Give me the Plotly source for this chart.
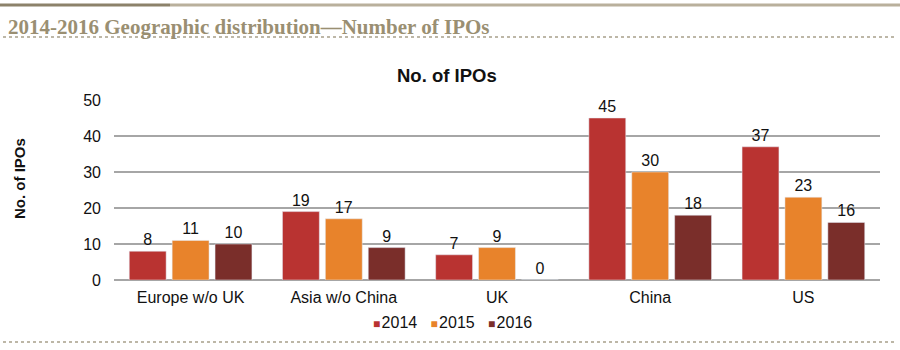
import plotly.graph_objects as go

categories = ["Europe w/o UK", "Asia w/o China", "UK", "China", "US"]
years = ["2014", "2015", "2016"]
ipos_2014 = [8, 19, 7, 45, 37]
ipos_2015 = [11, 17, 9, 30, 23]
ipos_2016 = [10, 9, 0, 18, 16]
series = [ipos_2014, ipos_2015, ipos_2016]
colors = ["#b93331", "#e8832b", "#7a2e2a"]

W, H = 900, 350
L, R, T, B = 114, 20, 100, 70
pw, ph = W - L - R, H - T - B

def px(x):
    return (x - L) / pw

def py(y):
    return (H - B - y) / ph

fig = go.Figure()
for name, vals, c in zip(years, series, colors):
    fig.add_trace(go.Bar(
        x=categories, y=vals, name=name, marker_color=c,
        text=[str(v) for v in vals], textposition="outside",
        textfont=dict(family="Liberation Sans, Arial", size=16, color="#111"),
        cliponaxis=False, showlegend=False,
    ))

fig.update_layout(
    width=W, height=H,
    margin=dict(l=L, r=R, t=T, b=B, autoexpand=False),
    paper_bgcolor="white", plot_bgcolor="white",
    barmode="group", bargap=0.16, bargroupgap=0.14,
    font=dict(family="Liberation Sans, Arial", size=15, color="#111"),
    title=dict(
        text="<b>2014-2016 Geographic distribution\u2014Number of IPOs</b>",
        font=dict(family="Liberation Serif, serif", size=21, color="#9a8f72"),
        xref="container", yref="container", x=8 / W, xanchor="left",
        y=1 - 27 / H, yanchor="middle",
    ),
    showlegend=False,
    xaxis=dict(showline=False, ticks="", tickfont=dict(size=16), automargin=False,
               ticklabelstandoff=6),
    yaxis=dict(
        range=[0, 50], dtick=10, showgrid=True, gridcolor="#a6a6a6", gridwidth=1.5,
        zeroline=True, zerolinecolor="#a6a6a6", zerolinewidth=1.5,
        tickfont=dict(size=16), ticks="", ticklen=0, ticklabelstandoff=12,
        automargin=False,
    ),
)

# y-axis title
fig.add_annotation(
    text="<b>No. of IPOs</b>", xref="paper", yref="paper",
    x=px(19), y=py(179), showarrow=False, textangle=-90,
    xanchor="center", yanchor="middle",
    font=dict(family="Liberation Sans, Arial", size=15, color="#111"),
)

# chart title
fig.add_annotation(
    text="<b>No. of IPOs</b>", xref="paper", yref="paper",
    x=px(447), y=py(75), showarrow=False, xanchor="center", yanchor="middle",
    font=dict(family="Liberation Sans, Arial", size=18.5, color="#111"),
)

# legend built from series names/colours
legend_html = "&nbsp;&nbsp;&nbsp;".join(
    f"<span style='color:{c};font-size:12px'>\u25A0</span>&#8202;{y}"
    for y, c in zip(years, colors)
)
fig.add_annotation(
    text=legend_html, xref="paper", yref="paper",
    x=px(452), y=py(322), showarrow=False, xanchor="center", yanchor="middle",
    font=dict(family="Liberation Sans, Arial", size=16, color="#111"),
)

# header / footer rules
fig.add_shape(type="line", xref="paper", yref="paper", x0=px(0), x1=px(170),
              y0=py(5), y1=py(5), line=dict(color="#8c826a", width=3))
fig.add_shape(type="line", xref="paper", yref="paper", x0=px(170), x1=px(W),
              y0=py(5), y1=py(5), line=dict(color="#b9b09c", width=3))
fig.add_shape(type="line", xref="paper", yref="paper", x0=px(3), x1=px(W - 3),
              y0=py(37), y1=py(37), line=dict(color="#a8a08a", width=1.5, dash="dot"))
fig.add_shape(type="line", xref="paper", yref="paper", x0=px(3), x1=px(W - 3),
              y0=py(342), y1=py(342), line=dict(color="#a8a08a", width=1.5, dash="dot"))

fig.write_html("out.html")
